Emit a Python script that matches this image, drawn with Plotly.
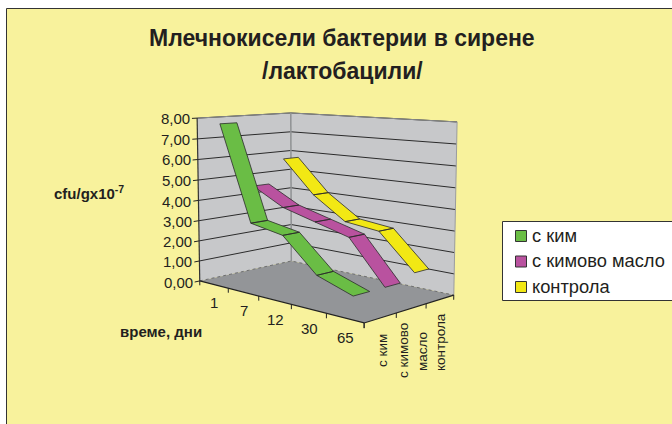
import numpy as np
import plotly.graph_objects as go

# ---- data ----
DAYS = ["1", "7", "12", "30", "65"]
SERIES = ["с ким", "с кимово масло", "контрола"]
KIM = [7.75, 3.2, 2.9, 1.4, 0.85]
KIM_OIL = [4.55, 3.7, 3.25, 2.8, 0.85]
CONTROL = [5.75, 4.1, 3.0, 2.8, 1.15]
Y_TICKS = [0, 1, 2, 3, 4, 5, 6, 7, 8]
Y_LABELS = ["0,00", "1,00", "2,00", "3,00", "4,00", "5,00", "6,00", "7,00", "8,00"]
COLORS = ["#6abd45", "#b9529f", "#f2e814"]
DEPTH_LABELS = [("с ким", 382, 351), ("с кимово", 403, 351), ("масло", 422, 352), ("контрола", 440, 342)]

W, H = 672, 424
YMAX = 8.0
HALF_WIDTH = 0.085

# box corners as (time, series, height) -> page pixel; fixes the 3D camera
CAMERA = [((0, 0, 0), (200, 281)), ((1, 0, 0), (364, 323)), ((1, 1, 0), (454, 295)),
          ((0, 1, 0), (291, 261)), ((0, 0, 1), (197, 118)), ((0, 1, 1), (291, 113)),
          ((1, 1, 1), (457, 122))]


def fit_camera(pairs):
    rows = []
    for (a, b, c), (x, y) in pairs:
        rows.append([a, b, c, 1, 0, 0, 0, 0, -x * a, -x * b, -x * c, -x])
        rows.append([0, 0, 0, 0, a, b, c, 1, -y * a, -y * b, -y * c, -y])
    return np.linalg.svd(np.array(rows, float))[2][-1].reshape(3, 4)


P = fit_camera(CAMERA)


def proj(u, v, val):
    p = P @ np.array([u, v, val / YMAX, 1.0])
    return p[0] / p[2], p[1] / p[2]


def poly(corners):
    pts = [proj(*c) for c in corners] + [proj(*corners[0])]
    return [p[0] for p in pts], [p[1] for p in pts]


def polyline(points):
    pts = [proj(*c) for c in points]
    return [p[0] for p in pts], [p[1] for p in pts]


fig = go.Figure()


def area(corners, fill, line="rgba(0,0,0,0)", lw=0, dash=None):
    x, y = poly(corners)
    fig.add_trace(go.Scatter(x=x, y=y, mode="lines", fill="toself", fillcolor=fill,
                             line=dict(color=line, width=lw, dash=dash), showlegend=False, hoverinfo="skip"))


def line(points, color, lw=1.0, dash=None):
    x, y = polyline(points)
    fig.add_trace(go.Scatter(x=x, y=y, mode="lines", line=dict(color=color, width=lw, dash=dash),
                             showlegend=False, hoverinfo="skip"))


# walls and floor
WALL = "#c7c8ca"
FLOOR = "#939598"
area([(0, 0, 0), (0, 1, 0), (0, 1, YMAX), (0, 0, YMAX)], WALL)
area([(0, 1, 0), (1, 1, 0), (1, 1, YMAX), (0, 1, YMAX)], WALL)
area([(0, 0, 0), (1, 0, 0), (1, 1, 0), (0, 1, 0)], FLOOR)

# gridlines
for t in Y_TICKS[1:]:
    line([(0, 0, t), (0, 1, t), (1, 1, t)], "#2b2b2b", 1.0)
line([(0, 0, YMAX), (0, 1, YMAX), (1, 1, YMAX)], "#8a8c8e", 1.0)
line([(1, 1, 0), (1, 1, YMAX)], "#9a9c9e", 1.0)
line([(0, 1, 0), (0, 1, YMAX)], "#8f9193", 1.5)
line([(0, 0, 0), (0, 1, 0), (1, 1, 0)], "#6d6e71", 1.0, "dot")

# axes + ticks
line([(0, 0, 0), (0, 0, YMAX)], "#333333", 1.2)
line([(0, 0, 0), (1, 0, 0), (1, 1, 0)], "#222222", 1.2)
for t in Y_TICKS:
    line([(0, 0, t), (0, -0.05, t)], "#222222", 1.0)
for i in range(len(DAYS) + 1):
    u = i / len(DAYS)
    line([(u, 0, 0), (u, 0, -0.22)], "#222222", 1.0)
for i in range(len(SERIES) + 1):
    v = i / len(SERIES)
    line([(1, v, 0), (1, v, -0.22)], "#222222", 1.0)

# ribbons, back to front
for idx, vals in reversed(list(enumerate([KIM, KIM_OIL, CONTROL]))):
    v = (idx + 0.5) / len(SERIES)
    xs, ys = [], []
    for i in range(len(vals) - 1):
        u0, u1 = (i + 0.5) / len(vals), (i + 1.5) / len(vals)
        x, y = poly([(u0, v - HALF_WIDTH, vals[i]), (u1, v - HALF_WIDTH, vals[i + 1]),
                     (u1, v + HALF_WIDTH, vals[i + 1]), (u0, v + HALF_WIDTH, vals[i])])
        xs += x + [None]
        ys += y + [None]
    fig.add_trace(go.Scatter(x=xs, y=ys, mode="lines", fill="toself", fillcolor=COLORS[idx],
                             line=dict(color="#2b2b2b", width=0.8), name=SERIES[idx],
                             showlegend=False, hoverinfo="skip"))

FONT = "Liberation Sans, Arial, sans-serif"
TXT = "#231f20"
notes = []


def note(x, y, text, size, bold=False, angle=0, xa="center", ya="middle"):
    notes.append(dict(x=x, y=y, xref="x", yref="y", text=f"<b>{text}</b>" if bold else text, showarrow=False,
                      font=dict(family=FONT, size=size, color=TXT), textangle=angle,
                      xanchor=xa, yanchor=ya, align="center", borderpad=0, borderwidth=0))


for t, lab in zip(Y_TICKS, Y_LABELS):
    x, y = proj(0, -0.05, t)
    note(x - 2, y, lab, 15, xa="right")
for i, d in enumerate(DAYS):
    x, y = proj((i + 0.5) / len(DAYS), -0.15, 0)
    note(x + 16, y + 15, d, 15)
for text, x, y in DEPTH_LABELS:
    note(x, y, text, 13.5, angle=-90)

note(342, 38, "Млечнокисели бактерии в сирене", 23, bold=True)
note(342, 71, "/лактобацили/", 23, bold=True)
note(54, 192, "cfu/gx10<sup>-7</sup>", 15, bold=True, xa="left")
note(161, 331, "време, дни", 15, bold=True)

# legend
shapes = [
    dict(type="rect", xref="x", yref="y", x0=6.5, y0=8.5, x1=680, y1=430, fillcolor="#f8f29c",
         line=dict(color="#333333", width=1), layer="below"),
    dict(type="rect", xref="x", yref="y", x0=502.5, y0=221.5, x1=680, y1=300.5, fillcolor="#ffffff",
         line=dict(color="#333333", width=1), layer="below"),
]
for i, s in enumerate(SERIES):
    yc = 236 + 25.5 * i
    shapes.append(dict(type="rect", xref="x", yref="y", x0=515.5, x1=526.5, y0=yc - 5.5, y1=yc + 5.5,
                       fillcolor=COLORS[i], line=dict(color="#333333", width=1)))
    note(532, yc - 1, s, 18.3, xa="left")

fig.update_layout(
    width=W, height=H, margin=dict(l=0, r=0, t=0, b=0), paper_bgcolor="#ffffff", plot_bgcolor="rgba(0,0,0,0)",
    xaxis=dict(range=[0, W], visible=False, fixedrange=True),
    yaxis=dict(range=[H, 0], visible=False, fixedrange=True),
    showlegend=False, shapes=shapes, annotations=notes,
)
fig.write_html("out.html", config=dict(displayModeBar=False),
               post_script="document.body.style.margin='0';document.documentElement.style.overflow='hidden';")
